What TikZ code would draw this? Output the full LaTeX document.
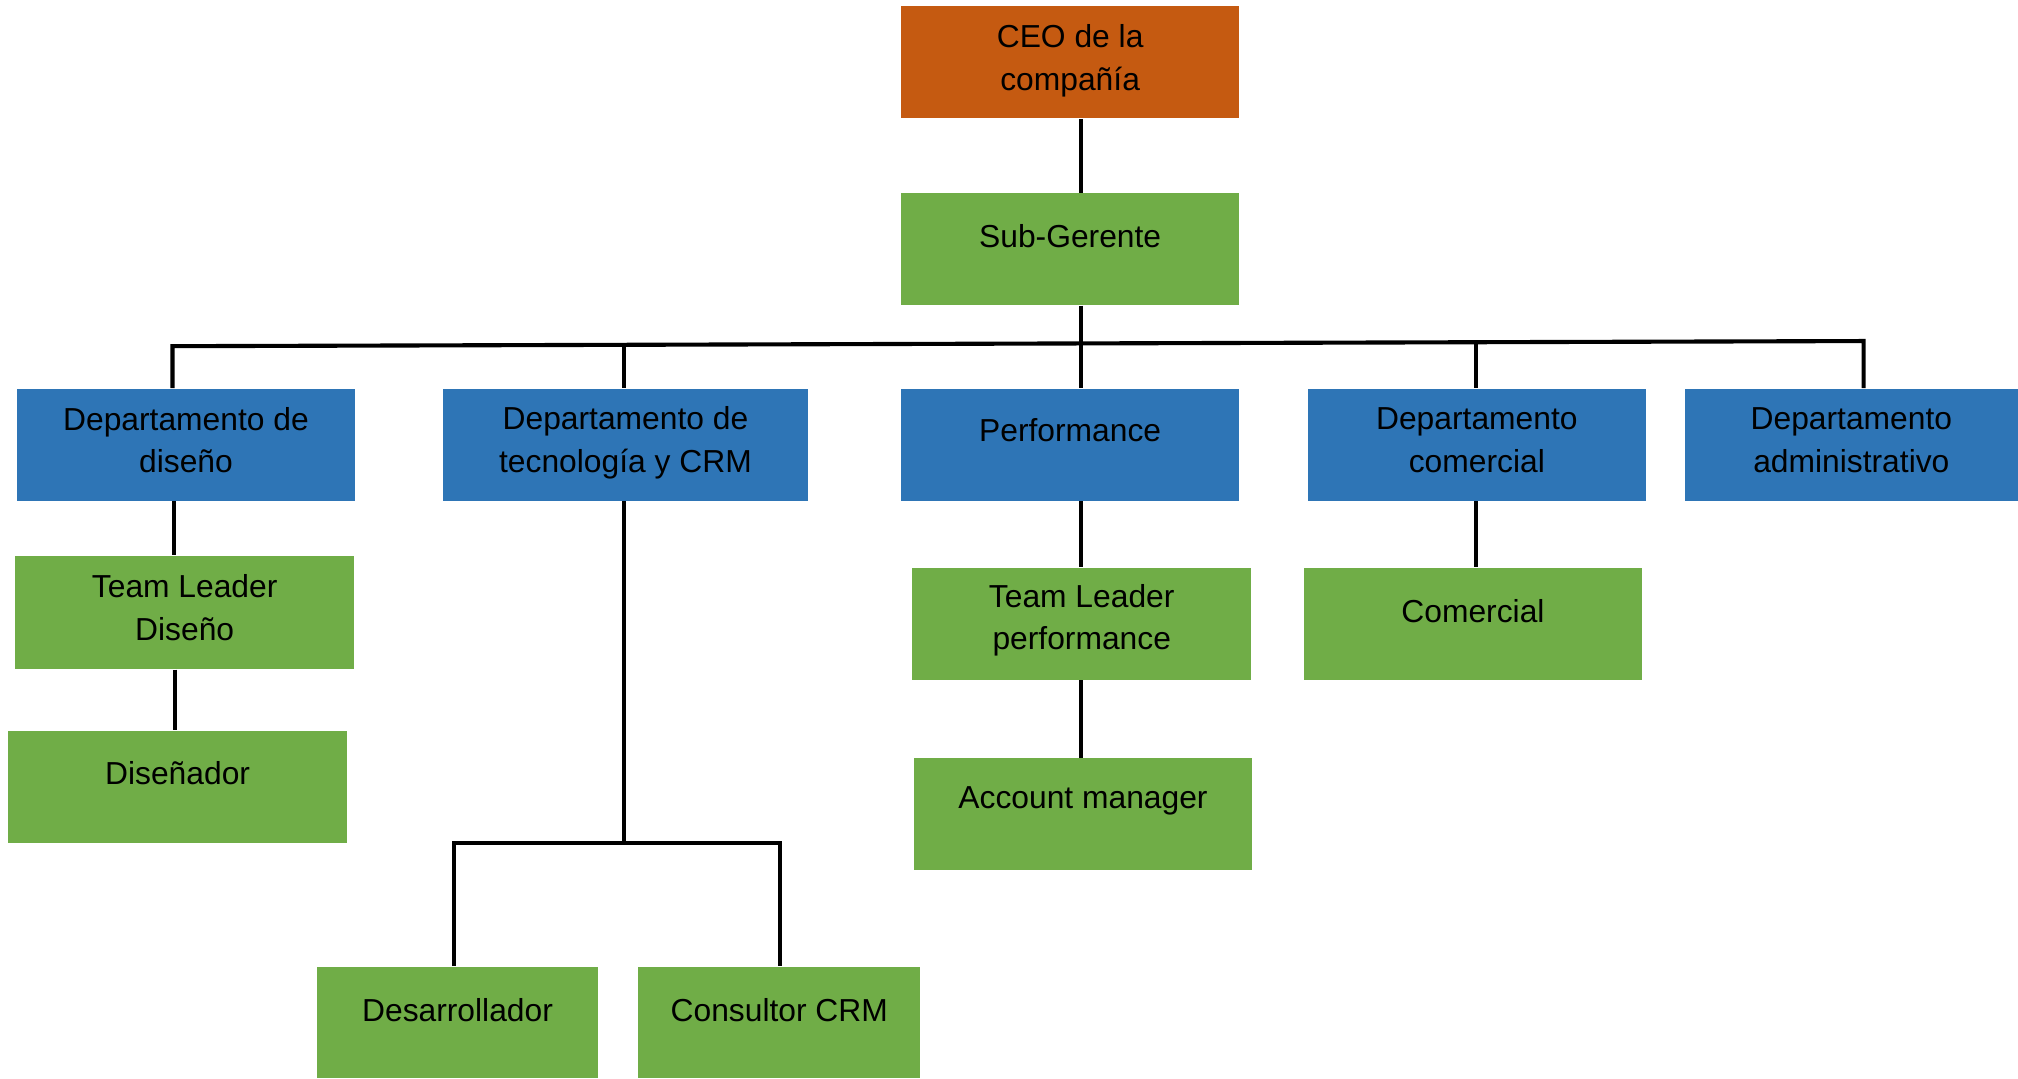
\documentclass[tikz,border=0pt]{standalone}
\usepackage{fontspec}
\setmainfont{Liberation Sans}
\definecolor{ceoC}{HTML}{C55A11}
\definecolor{grnC}{HTML}{70AD47}
\definecolor{bluC}{HTML}{2E75B6}
\begin{document}
\begin{tikzpicture}[x=0.5pt,y=-0.5pt,
  box/.style={rectangle, draw=none, inner sep=0pt, minimum width=131.5pt, minimum height=43.5pt},
  orangebox/.style={box, fill=ceoC},
  greenbox/.style={box, fill=grnC},
  bluebox/.style={box, fill=bluC},
  lbl/.style={align=center, inner sep=0pt, font=\fontsize{12.35}{16.5}\selectfont, text=black},
  conn/.style={draw=black, line width=1.6pt}]
\useasboundingbox (0,0) rectangle (1568,838);
% boxes
\node[orangebox] (ceo) at (831.5,48.5) {};
\node[greenbox] (sub) at (831.5,193.5) {};
\node[bluebox] (dd) at (144.5,345.5) {};
\node[bluebox, minimum width=142pt] (dt) at (486,345.5) {};
\node[bluebox] (perf) at (831.5,345.5) {};
\node[bluebox] (dc) at (1147.5,345.5) {};
\node[bluebox, minimum width=129.5pt] (da) at (1438.5,345.5) {};
\node[greenbox, minimum height=44pt] (tld) at (143.5,476) {};
\node[greenbox, minimum width=132pt] (dis) at (138,611.5) {};
\node[greenbox, minimum width=109.5pt] (dev) at (355.5,794.5) {};
\node[greenbox, minimum width=109.5pt] (cons) at (605.5,794.5) {};
\node[greenbox] (tlp) at (840.5,484.5) {};
\node[greenbox] (acc) at (841.5,632.5) {};
\node[greenbox] (com) at (1144.5,484.5) {};
% labels
\node[lbl] (tceo) at ([yshift=0.6pt]ceo.center) {CEO de la\\compañía};
\node[lbl] (tsub) at ([yshift=5pt]sub.center) {Sub-Gerente};
\node[lbl] (tdd) at ([yshift=1.7pt]dd.center) {Departamento de\\diseño};
\node[lbl] (tdt) at ([yshift=0.8pt]dt.center) {Departamento de\\tecnología y CRM};
\node[lbl] (tperf) at ([yshift=5.5pt]perf.center) {Performance};
\node[lbl] (tdc) at ([yshift=1.7pt]dc.center) {Departamento\\comercial};
\node[lbl] (tda) at ([yshift=1.7pt]da.center) {Departamento\\administrativo};
\node[lbl] (ttld) at ([yshift=1.9pt]tld.center) {Team Leader\\Diseño};
\node[lbl] (tdis) at ([yshift=5.5pt]dis.center) {Diseñador};
\node[lbl] (tdev) at ([yshift=5pt]dev.center) {Desarrollador};
\node[lbl] (tcons) at ([yshift=5pt]cons.center) {Consultor CRM};
\node[lbl] (ttlp) at ([yshift=1.2pt]tlp.center) {Team Leader\\performance};
\node[lbl] (tacc) at ([yshift=5pt]acc.center) {Account manager};
\node[lbl] (tcom) at ([yshift=5pt]com.center) {Comercial};
% bus coordinates
\coordinate (busL) at (134,269);
\coordinate (busR) at (1448,265);
\coordinate (bT) at (485,268);
\coordinate (bC) at (1147,266);
\coordinate (techJ) at (485,655);
\coordinate (techL) at (353,655);
\coordinate (techR) at (606,655);
% connectors
\draw[conn] (ceo.south -| 840,0) -- (sub.north -| 840,0);
\draw[conn] (sub.south -| 840,0) -- (perf.north -| 840,0);
\draw[conn] (dd.north -| busL) -- (busL) -- (busR) -- (da.north -| busR);
\draw[conn] (bT) -- (dt.north -| bT);
\draw[conn] (bC) -- (dc.north -| bC);
\draw[conn] (dd.south -| 135,0) -- (tld.north -| 135,0);
\draw[conn] (tld.south -| 136,0) -- (dis.north -| 136,0);
\draw[conn] (dt.south -| techJ) -- (techJ);
\draw[conn] (dev.north -| techL) -- (techL) -- (techR) -- (cons.north -| techR);
\draw[conn] (perf.south -| 840,0) -- (tlp.north -| 840,0);
\draw[conn] (tlp.south -| 840,0) -- (acc.north -| 840,0);
\draw[conn] (dc.south -| 1147,0) -- (com.north -| 1147,0);
\end{tikzpicture}
\end{document}
